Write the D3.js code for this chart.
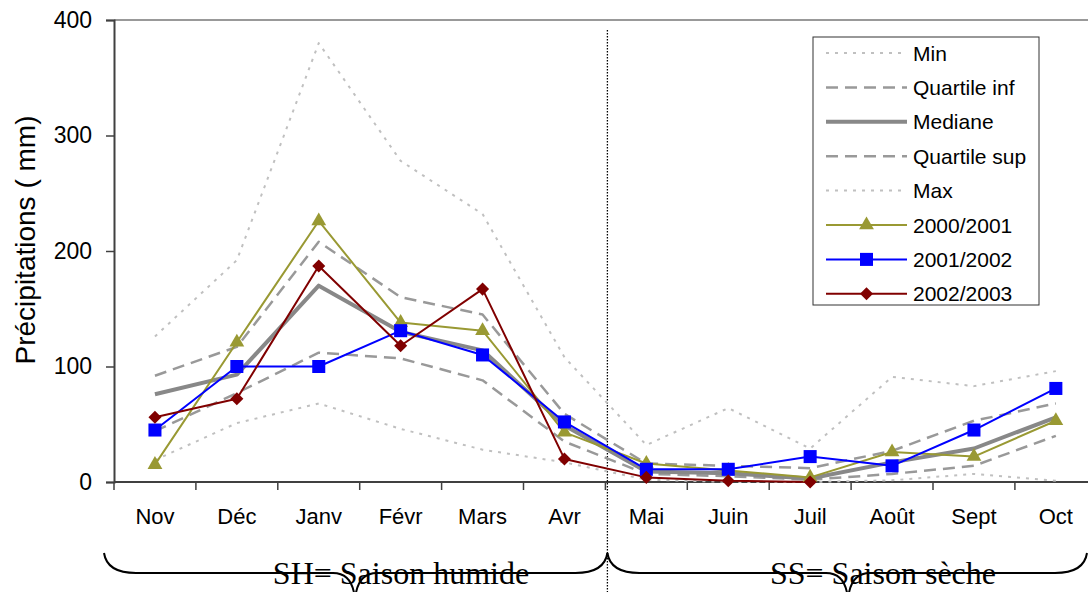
<!DOCTYPE html>
<html>
<head>
<meta charset="utf-8">
<script src="https://cdn.jsdelivr.net/npm/d3@7"></script>
<style>
  html, body { margin: 0; padding: 0; background: #fff; }
  svg { display: block; }
</style>
</head>
<body>
<svg id="chart" width="1088" height="592"></svg>
<script>
// ---- data ----
const months = ["Nov", "Déc", "Janv", "Févr", "Mars", "Avr", "Mai", "Juin", "Juil", "Août", "Sept", "Oct"];
const yTicks = [0, 100, 200, 300, 400];
const minVals      = [19, 51, 68, 46, 28, 17, 2, 0, 0, 1.5, 7, 1];
const quartInfVals = [44, 77, 112, 107, 88, 35, 7, 5, 2, 7, 14, 40];
const medianVals   = [76, 93, 170, 130, 114, 49, 9, 7.5, 3, 17, 29, 56];
const quartSupVals = [92, 117, 208, 160, 145, 59, 16, 14, 12, 27, 53, 68];
const maxVals      = [126, 192, 380, 278, 232, 108, 32, 64, 29, 91, 83, 96];
const y2000 = [15, 121, 226, 138, 131, 43, 16, 10, 4, 26, 22, 53];
const y2001 = [45, 100, 100, 131, 110, 52, 11, 11, 22, 14, 45, 81];
const y2002 = [56, 72, 187, 118, 167, 20, 4, 1, 0];
const seasons = ["SH= Saison humide", "SS= Saison sèche"];

const series = [
  { name: "Min",          values: minVals,      color: "#c0c0c0", width: 2,   dash: "3,6",  marker: null },
  { name: "Quartile inf", values: quartInfVals, color: "#999999", width: 2.5, dash: "12,7", marker: null },
  { name: "Mediane",      values: medianVals,   color: "#888888", width: 4,   dash: null,   marker: null },
  { name: "Quartile sup", values: quartSupVals, color: "#999999", width: 2.5, dash: "12,7", marker: null },
  { name: "Max",          values: maxVals,      color: "#c0c0c0", width: 2,   dash: "3,6",  marker: null },
  { name: "2000/2001",    values: y2000,        color: "#999933", width: 2,   dash: null,   marker: "triangle" },
  { name: "2001/2002",    values: y2001,        color: "#0000ff", width: 2,   dash: null,   marker: "square" },
  { name: "2002/2003",    values: y2002,        color: "#800000", width: 2,   dash: null,   marker: "diamond" }
];

// ---- layout ----
const SANS = "'Liberation Sans', Arial, sans-serif";
const SERIF = "'Liberation Serif', 'Times New Roman', serif";
const svg = d3.select("#chart");
const plotLeft = 114, plotTop = 20, plotBottom = 482, step = 81.9;
const x = d3.scaleBand().domain(months).range([plotLeft, plotLeft + step * months.length]).padding(0);
const y = d3.scaleLinear().domain([0, 400]).range([plotBottom, plotTop]);
const cx = m => x(m) + x.bandwidth() / 2;

// top border
svg.append("line").attr("x1", plotLeft).attr("x2", 1088).attr("y1", y(400)).attr("y2", y(400))
  .attr("stroke", "#999").attr("stroke-width", 2);

// y axis
const yAxis = svg.append("g").attr("transform", `translate(${plotLeft},0)`)
  .call(d3.axisLeft(y).tickValues(yTicks).tickSize(8).tickPadding(14).tickFormat(d3.format("d")));
yAxis.select(".domain").attr("stroke", "#404040").attr("stroke-width", 2);
yAxis.selectAll(".tick line").attr("stroke", "#404040").attr("stroke-width", 1.5);
yAxis.selectAll(".tick text").style("font-size", "23px").style("font-family", SANS).attr("fill", "#000");

// x axis
const xAxis = svg.append("g").attr("transform", `translate(0,${plotBottom})`)
  .call(d3.axisBottom(x).tickSize(0).tickPadding(26));
xAxis.select(".domain").remove();
xAxis.selectAll(".tick text").style("font-size", "22px").style("font-family", SANS).attr("fill", "#000");
svg.append("line").attr("x1", plotLeft).attr("x2", 1088).attr("y1", plotBottom).attr("y2", plotBottom)
  .attr("stroke", "#404040").attr("stroke-width", 2);
svg.append("g").selectAll("line").data(months).join("line")
  .attr("x1", d => x(d)).attr("x2", d => x(d)).attr("y1", plotBottom).attr("y2", plotBottom + 8)
  .attr("stroke", "#404040").attr("stroke-width", 1.5);

// y title
svg.append("text").attr("transform", "translate(35,240) rotate(-90)")
  .attr("text-anchor", "middle").style("font-size", "28px").style("font-family", SANS)
  .text("Précipitations ( mm)");

// season divider (dotted)
const divX = x("Mai") + 2;
svg.append("line").attr("x1", divX).attr("x2", divX).attr("y1", 30).attr("y2", 592)
  .attr("stroke", "#000").attr("stroke-width", 1.3).attr("stroke-dasharray", "1.5,1.5");

// lines
const line = d3.line().defined(d => d != null).x((d, i) => cx(months[i])).y(d => y(d));
const symbolFor = {
  triangle: d3.symbol().type(d3.symbolTriangle).size(95),
  square: d3.symbol().type(d3.symbolSquare).size(170),
  diamond: d3.symbol().type(d3.symbolSquare).size(85)
};
series.forEach(s => {
  svg.append("path").datum(s.values).attr("d", line).attr("fill", "none")
    .attr("stroke", s.color).attr("stroke-width", s.width)
    .attr("stroke-dasharray", s.dash).attr("stroke-linejoin", "round");
});
series.forEach(s => {
  if (!s.marker) return;
  svg.append("g").selectAll("path").data(s.values).join("path")
    .attr("d", symbolFor[s.marker])
    .attr("transform", (d, i) => `translate(${cx(months[i])},${y(d)})${s.marker === "diamond" ? " rotate(45)" : ""}`)
    .attr("fill", s.color);
});

// legend
const lg = svg.append("g");
lg.append("rect").attr("x", 813).attr("y", 37).attr("width", 226).attr("height", 268)
  .attr("fill", "#fff").attr("stroke", "#333").attr("stroke-width", 1);
series.forEach((s, i) => {
  const ly = 53 + i * 34.4;
  lg.append("line").attr("x1", 826).attr("x2", 907).attr("y1", ly).attr("y2", ly)
    .attr("stroke", s.color).attr("stroke-width", s.width).attr("stroke-dasharray", s.dash);
  if (s.marker) {
    lg.append("path").attr("d", symbolFor[s.marker])
      .attr("transform", `translate(866.5,${ly})${s.marker === "diamond" ? " rotate(45)" : ""}`)
      .attr("fill", s.color);
  }
  lg.append("text").attr("x", 913).attr("y", ly).attr("dy", "0.36em")
    .style("font-size", "21px").style("font-family", SANS).text(s.name);
});

// season braces
const braceY0 = 553, braceY1 = 573, braceTip = 600;
function brace(x0, x1, xm) {
  return `M${x0},${braceY0} Q${x0 + 3},${braceY1} ${x0 + 32},${braceY1} L${xm - 22},${braceY1} ` +
         `Q${xm - 2},${braceY1} ${xm},${braceTip} Q${xm + 2},${braceY1} ${xm + 22},${braceY1} ` +
         `L${x1 - 32},${braceY1} Q${x1 - 3},${braceY1} ${x1},${braceY0}`;
}
const seasonSpans = [
  { x0: plotLeft - 10, x1: divX, xm: 355, tx: 401 },
  { x0: divX, x1: 1087, xm: 848, tx: 883 }
];
seasonSpans.forEach((sp, i) => {
  svg.append("text").attr("x", sp.tx).attr("y", 584).attr("text-anchor", "middle")
    .style("font-family", SERIF).style("font-size", "32px")
    .text(seasons[i]);
  svg.append("path").attr("d", brace(sp.x0, sp.x1, sp.xm)).attr("fill", "none")
    .attr("stroke", "#000").attr("stroke-width", 2);
});
</script>
</body>
</html>
